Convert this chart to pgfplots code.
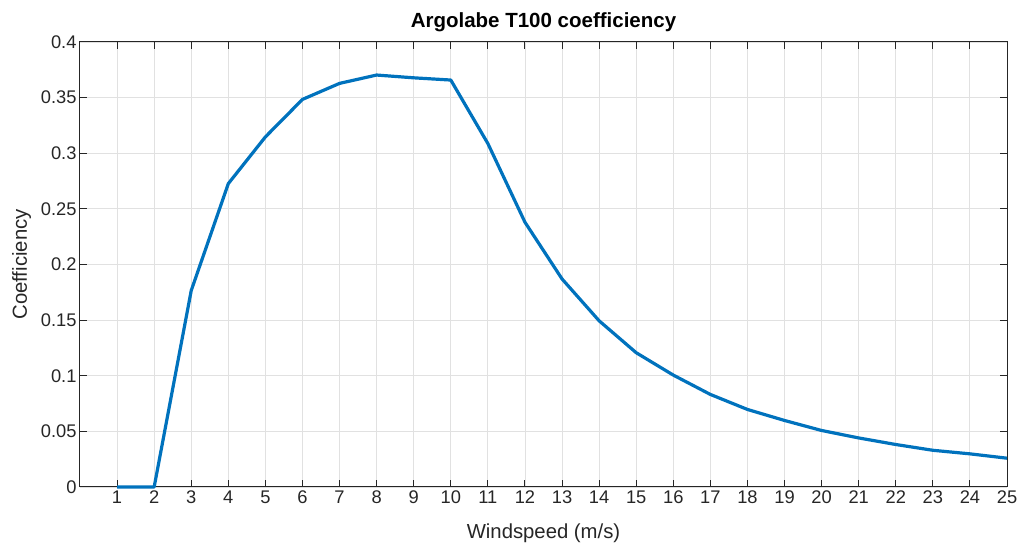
\documentclass[border=0pt]{standalone}
\usepackage{fontspec}
\setmainfont{Liberation Sans}
\usepackage{pgfplots}
\pgfplotsset{compat=1.18}
\usetikzlibrary{calc}
\definecolor{mblue}{RGB}{0,114,189}
\definecolor{mtext}{RGB}{38,38,38}
\definecolor{mgrid}{RGB}{225,225,225}
\begin{document}
\begin{tikzpicture}
\begin{axis}[
  scale only axis, width=927pt, height=445pt,
  xmin=0, xmax=25, ymin=0, ymax=0.4,
  clip=false,
  xtick={1,2,3,4,5,6,7,8,9,10,11,12,13,14,15,16,17,18,19,20,21,22,23,24,25},
  xticklabels={1,2,3,4,5,6,7,8,9,10,11,12,13,14,15,16,17,18,19,20,21,22,23,24,25},
  ytick={0,0.05,0.1,0.15,0.2,0.25,0.3,0.35,0.4},
  yticklabels={0,0.05,0.1,0.15,0.2,0.25,0.3,0.35,0.4},
  tick align=inside, major tick length=7pt,
  grid=major, major grid style={mgrid, line width=0.9pt},
  axis line style={mtext, line width=1pt},
  tick style={mtext, line width=1pt},
  ticklabel style={font=\fontsize{18.3}{20}\selectfont, text=mtext},
  xlabel={Windspeed (m/s)}, ylabel={Coefficiency},
  label style={font=\fontsize{20.3}{22}\selectfont, text=mtext},
  xlabel style={at={(axis description cs:0.5,-0.1150)}, anchor=base},
  ylabel style={at={(axis description cs:-0.0572,0.5)}, anchor=base},
  title={Argolabe T100 coefficiency},
  title style={font=\bfseries\fontsize{20.5}{22}\selectfont, text=black, at={(axis description cs:0.5,1.019)}, anchor=base},
]
\addplot[mblue, line width=3.2pt, line join=round] coordinates {
(1,0) (2,0) (3,0.1766) (4,0.2727) (5,0.3147) (6,0.3484) (7,0.3628) (8,0.3703)
(9,0.3678) (10,0.3658) (11,0.3087) (12,0.238) (13,0.187) (14,0.1494) (15,0.1207)
(16,0.1006) (17,0.0832) (18,0.0697) (19,0.0598) (20,0.0508) (21,0.0441) (22,0.0382)
(23,0.0330) (24,0.0298) (25,0.0259)
};
\end{axis}
\pgfresetboundingbox
\path[use as bounding box] ($(current axis.south west)+(-80pt,-58pt)$) rectangle ($(current axis.north east)+(20pt,42pt)$);
\end{tikzpicture}
\end{document}
